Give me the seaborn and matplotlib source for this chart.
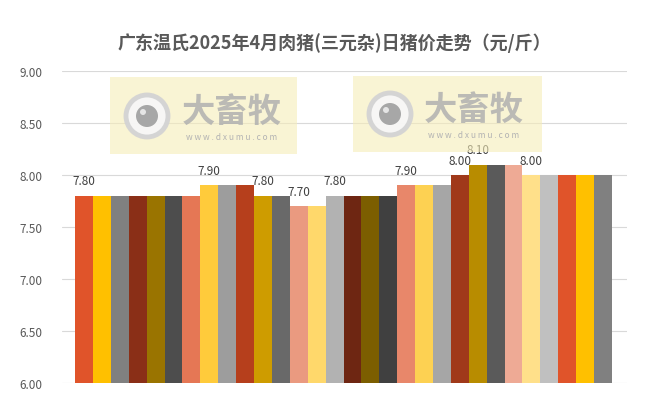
import matplotlib

matplotlib.use("agg")

import matplotlib.pyplot as plt
import pandas as pd
import seaborn as sns
from matplotlib.patches import Circle, Rectangle

# daily prices, April 2025
days = [f"4月{d}日" for d in range(1, 31)]
prices = [7.80, 7.80, 7.80, 7.80, 7.80, 7.80, 7.80, 7.90, 7.90, 7.90,
          7.80, 7.80, 7.70, 7.70, 7.80, 7.80, 7.80, 7.80, 7.90, 7.90,
          7.90, 8.00, 8.10, 8.10, 8.10, 8.00, 8.00, 8.00, 8.00, 8.00]
# bars that carry a value label (where price changes)
labelled = [0, 7, 10, 12, 14, 18, 21, 22, 25]
bar_colors = ["#E0542A", "#FFC000", "#808080", "#8A2F17", "#9A7400", "#4D4D4D",
              "#E57755", "#FFCB3B", "#9D9D9D", "#B63F1C", "#CE9C00", "#696969",
              "#EA9A80", "#FFD86B", "#B2B2B2", "#6E2612", "#7C5E00", "#404040",
              "#E8876A", "#FDD152", "#A6A6A6", "#A0391A", "#B88C00", "#5A5A5A",
              "#EEAA95", "#FFE08A", "#C0C0C0", "#E0542A", "#FFC000", "#808080"]
yticks = [6.0, 6.5, 7.0, 7.5, 8.0, 8.5, 9.0]
title = "广东温氏2025年4月肉猪(三元杂)日猪价走势（元/斤）"

sns.set_style("white")
plt.rcParams["font.family"] = ["Noto Sans CJK SC", "DejaVu Sans"]

df = pd.DataFrame({"day": days, "price": prices})

W, H = 650, 406
fig = plt.figure(figsize=(6.5, 4.06), dpi=100)
ax = fig.add_axes([62 / W, 1 - 384 / H, 565 / W, 312 / H])

sns.barplot(data=df, x="day", y="price", hue="day", palette=bar_colors,
            width=1.0, legend=False, ax=ax, saturation=1, zorder=3,
            linewidth=0, edgecolor="none")

ax.set_ylim(6, 9)
ax.set_xlim(-1.23, 30.34)
ax.set_yticks(yticks)
ax.set_yticklabels([f"{v:.2f}" for v in yticks], color="#595959", fontsize=8.5)
ax.tick_params(axis="y", length=0, pad=14)
ax.set_xticks([])
ax.set_xlabel("")
ax.set_ylabel("")
ax.grid(axis="y", color="#D9D9D9", linewidth=0.8, zorder=0)
for s in ax.spines.values():
    s.set_visible(False)

for i in labelled:
    ax.annotate(f"{prices[i]:.2f}", (i, prices[i]), xytext=(0, 6),
                textcoords="offset points", ha="center", va="bottom",
                fontsize=8.5, color="#404040", zorder=5)

fig.text(334 / W, 1 - 43 / H, title, ha="center", va="center", fontsize=13,
         fontweight="bold", color="#595959")


# watermark boxes (pixel coords of the picture)
def watermark(x0, y0, x1, y1, cx, cy, tx, ty):
    tr = fig.dpi_scale_trans
    px = lambda v: v / 100
    fig.patches.append(Rectangle((px(x0), px(H - y1)), px(x1 - x0), px(y1 - y0),
                                 transform=tr, facecolor="#F6EDB8",
                                 alpha=0.6, edgecolor="none", zorder=4))
    fig.patches.append(Circle((px(cx), px(H - cy)), px(21), transform=tr,
                              facecolor="#F7F7F7", edgecolor="#D3D3D3",
                              linewidth=3.5, alpha=0.95, zorder=5))
    fig.patches.append(Circle((px(cx), px(H - cy)), px(11), transform=tr,
                              facecolor="#A3A3A3", edgecolor="none",
                              alpha=0.95, zorder=6))
    fig.patches.append(Circle((px(cx - 4), px(H - cy + 4)), px(3), transform=tr,
                              facecolor="#E5E5E5", edgecolor="none", zorder=7))
    fig.text(px(tx) / 6.5, px(H - ty) / 4.06, "大畜牧", ha="center", va="center",
             fontsize=24, fontweight="bold", color="#B0B0B0", alpha=0.85, zorder=6)
    fig.text(px(tx) / 6.5, px(H - ty - 26) / 4.06, "w w w . d x u m u . c o m",
             ha="center", va="center", fontsize=6, color="#B3B3B3", zorder=6)


watermark(110, 78, 297, 155, 147, 117, 232, 112)
watermark(353, 77, 542, 153, 390, 115, 474, 110)

fig.savefig("out.png", dpi=100, facecolor="white")
